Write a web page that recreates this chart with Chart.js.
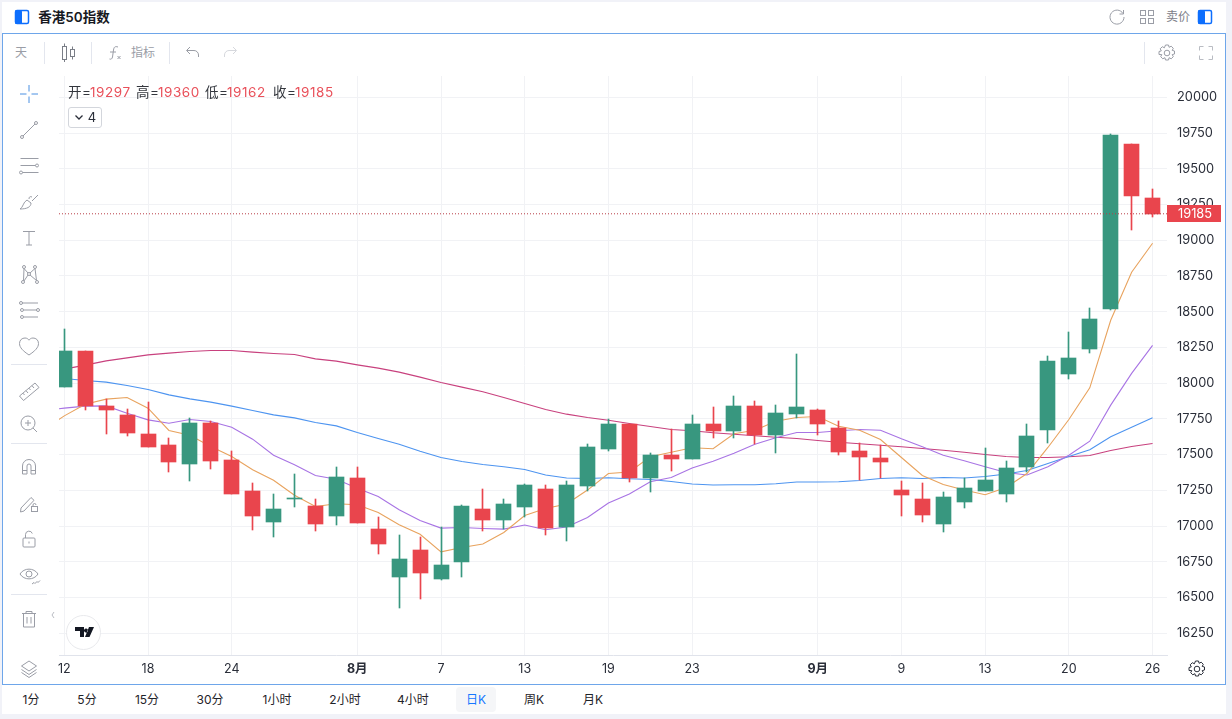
<!DOCTYPE html>
<html><head><meta charset="utf-8">
<script src="https://cdn.jsdelivr.net/npm/chart.js@4"></script>
<style>
html,body{margin:0;padding:0;width:1232px;height:719px;overflow:hidden;background:#f1f2f8;font-family:Inter,"Noto Sans CJK SC",sans-serif}
.abs{position:absolute}
#top{left:2px;top:2px;width:1224px;height:31px;background:#fff}
#frame{left:2px;top:33px;width:1222px;height:650px;background:#fff;border:1px solid #6ea6ea}
#bottom{left:2px;top:685px;width:1224px;height:29px;background:#fff}
canvas{position:absolute;left:0;top:0}
.t{position:absolute;white-space:nowrap;line-height:16px;transform:translate(-50%,-50%)}
.sep{position:absolute;background:#e3e6ee}
#legend span{position:absolute;top:84px;font-size:13.5px;line-height:16px;white-space:nowrap;letter-spacing:.55px}
svg{position:absolute;overflow:visible}
</style></head><body>
<div class="abs" id="top"></div><div class="abs" id="frame"></div><div class="abs" id="bottom"></div>
<div id="chrome"></div>
<canvas id="c" width="1232" height="719"></canvas>
<div id="legend"></div>
<div id="over"></div>
<script>
const xTickIndex=[0,4,8,14,18,22,26,30,36,40,44,48,52];
const xTickLabels=['12','18','24','8月','7','13','19','23','9月','9','13','20','26'];
const yTicks=[20000,19750,19500,19250,19000,18750,18500,18250,18000,17750,17500,17250,17000,16750,16500,16250];
const opens=[17974,18226,17841,17778,17645,17568,17436,17722,17464,17247,17030,17188,17142,17072,17338,16981,16645,16834,16629,16748,17119,17042,17133,17259,16993,17280,17538,17713,17336,17496,17468,17713,17664,17839,17636,17783,17811,17685,17524,17475,17252,17189,17014,17168,17245,17224,17412,17671,18063,18238,18519,19674,19297];
const closes=[18226,17837,17813,17652,17555,17450,17722,17457,17226,17072,17121,17195,17016,17345,17023,16876,16771,16673,16727,17140,17042,17154,17287,16986,17287,17552,17713,17336,17496,17468,17713,17664,17839,17636,17790,17832,17713,17517,17482,17447,17217,17077,17203,17266,17322,17406,17629,18154,18175,18449,19737,19310,19185];
const highs=[18380,18226,17888,17820,17869,17617,17755,17736,17527,17303,17226,17366,17191,17415,17415,17065,16939,16925,16993,17147,17259,17189,17294,17287,17315,17573,17748,17713,17510,17678,17776,17832,17909,17874,17846,18203,17818,17734,17578,17566,17315,17301,17238,17336,17543,17455,17713,18189,18358,18526,19744,19674,19360];
const lows=[17974,17813,17645,17631,17555,17380,17317,17401,17226,16974,16925,17135,16967,17009,17023,16806,16428,16491,16622,16643,16965,16979,17063,16937,16895,17245,17524,17308,17238,17385,17468,17615,17615,17573,17510,17755,17636,17496,17322,17336,17070,17028,16958,17126,17245,17168,17378,17580,18028,18210,18512,19072,19162];
// moving averages: first entry is the bar just left of the visible window
const ma5=[17673,17771,17853,17888,17900,17825,17669,17636,17557,17487,17394,17321,17216,17137,17156,17149,17095,17009,16943,16820,16850,16874,16955,17074,17123,17154,17252,17368,17378,17485,17517,17548,17541,17646,17671,17734,17760,17767,17699,17671,17606,17480,17354,17291,17252,17219,17270,17368,17550,17746,17967,18440,18776,18979];
const ma10=[17809,17825,17839,17841,17790,17743,17720,17746,17732,17692,17608,17496,17429,17354,17328,17265,17207,17114,17039,16986,16990,16983,16979,17007,16974,16993,17060,17161,17224,17310,17340,17406,17454,17510,17573,17618,17655,17655,17667,17676,17671,17611,17555,17496,17457,17415,17375,17357,17415,17496,17594,17846,18068,18264];
const ma30=[18047,18033,18019,18007,17984,17956,17918,17890,17867,17839,17809,17778,17757,17725,17701,17655,17613,17573,17524,17480,17452,17431,17415,17396,17357,17336,17333,17338,17331,17326,17312,17294,17287,17289,17289,17296,17308,17308,17310,17319,17333,17338,17333,17340,17336,17347,17364,17389,17438,17487,17534,17625,17692,17758];
const ma60=[18075,18098,18126,18156,18177,18198,18210,18221,18228,18228,18217,18207,18200,18170,18154,18128,18105,18077,18042,18005,17972,17940,17900,17858,17816,17783,17760,17741,17718,17697,17676,17667,17653,17643,17632,17622,17613,17599,17587,17576,17566,17555,17543,17531,17517,17501,17487,17480,17480,17485,17494,17529,17557,17578];

const GREEN='#38977f',RED='#e9454d';
const last=closes.length-1, lastClose=closes[last];
const xMin=-0.253,xMax=52.69,yMin=16098,yMax=20149;
const FONT='Inter,"Noto Sans CJK SC",sans-serif';
const col=i=>closes[i]>=opens[i]?GREEN:RED;
const barColors=closes.map((_,i)=>col(i));
const maSet=(data,color)=>({type:'line',data:data.map((y,i)=>({x:i-1,y})),borderColor:color,borderWidth:1.1,pointRadius:0,tension:0,order:3});

const snapBars={id:'snapBars',beforeDatasetsDraw(ch){
  ch.data.datasets.forEach((d,k)=>{ if(d.type!=='bar')return;
    ch.getDatasetMeta(k).data.forEach(el=>{el.x=Math.floor(el.x)+0.5;el.y=Math.round(el.y);el.base=Math.round(el.base);});});
}};
const priceTag={id:'priceTag',afterDraw(ch){
  const c=ch.ctx,y=ch.scales.y.getPixelForValue(lastClose),r=ch.chartArea.right;
  c.save();c.fillStyle=RED;c.fillRect(r,Math.round(y)-9,54,17);
  c.fillStyle='#fff';c.font='12.8px '+FONT;c.textAlign='left';c.textBaseline='middle';
  c.fillText(String(lastClose),r+11,Math.round(y)+0.5);c.restore();
}};
new Chart(document.getElementById('c'),{
  type:'bar',
  data:{datasets:[
    {type:'bar',label:'wick',data:highs.map((h,i)=>({x:i,y:[lows[i],h]})),backgroundColor:barColors,barThickness:1,grouped:false,order:2},
    {type:'bar',label:'body',data:opens.map((o,i)=>({x:i,y:[o,closes[i]]})),backgroundColor:barColors,barThickness:15,grouped:false,order:1},
    maSet(ma5,'#e8a35e'),maSet(ma10,'#a874e4'),maSet(ma30,'#4d94f0'),maSet(ma60,'#c8417e'),
    {type:'line',label:'last',data:[{x:xMin,y:lastClose},{x:xMax,y:lastClose}],borderColor:'#b83f47',borderWidth:1,borderDash:[1,2],pointRadius:0,order:0}
  ]},
  plugins:[snapBars,priceTag],
  options:{responsive:false,animation:false,devicePixelRatio:1,
    layout:{padding:{left:59,top:76,right:0,bottom:0}},
    plugins:{legend:{display:false},tooltip:{enabled:false}},
    scales:{
      x:{type:'linear',min:xMin,max:xMax,offset:false,
        afterBuildTicks:s=>{s.ticks=xTickIndex.map(v=>({value:v}));},
        afterFit:s=>{s.height=64;},
        grid:{color:'#f1f2f5',drawTicks:false,offset:false},border:{color:'#e0e3eb'},
        ticks:{autoSkip:false,maxRotation:0,padding:7,color:'#2a2e39',
          callback:v=>xTickLabels[xTickIndex.indexOf(v)],
          font:c=>{const l=c.tick?(xTickLabels[xTickIndex.indexOf(c.tick.value)]||''):'';return {family:FONT,size:12.5,weight:l.includes('月')?'bold':'normal'};}}},
      y:{type:'linear',position:'right',min:yMin,max:yMax,
        afterBuildTicks:s=>{s.ticks=yTicks.map(v=>({value:v}));},
        afterFit:s=>{s.width=65;},
        grid:{color:'#f1f2f5',drawTicks:false},border:{display:false},
        ticks:{autoSkip:false,padding:10,crossAlign:'near',color:'#2a2e39',font:{family:FONT,size:12.8},callback:v=>String(v)}}
    }
  }
});

// page chrome
const G='#9a9da6';
const chrome=document.getElementById('chrome'),over=document.getElementById('over');
function txt(x,y,s,size,color,weight,host){const d=document.createElement('div');d.className='t';d.textContent=s;d.style.cssText=`left:${x}px;top:${y}px;font-size:${size}px;color:${color};font-weight:${weight||400}`;(host||chrome).appendChild(d);}
function sep(x,y,w,h){const d=document.createElement('div');d.className='sep';d.style.cssText=`left:${x}px;top:${y}px;width:${w}px;height:${h}px`;chrome.appendChild(d);}
function ic(cx,cy,inner,host,color){const s=document.createElementNS('http://www.w3.org/2000/svg','svg');s.setAttribute('width',24);s.setAttribute('height',24);s.setAttribute('viewBox','0 0 24 24');s.style.left=(cx-12)+'px';s.style.top=(cy-12)+'px';s.setAttribute('fill','none');s.setAttribute('stroke',color||G);s.setAttribute('stroke-width','1');s.innerHTML=inner;(host||chrome).appendChild(s);}
const panel='<rect x="5.5" y="5.5" width="13" height="13" rx="1.5" fill="#fff" stroke="#0d6efd" stroke-width="1.5"/><rect x="5" y="5" width="7" height="14" rx="1.5" fill="#0d6efd" stroke="none"/>';
ic(22,17,panel);
txt(74,17,'香港50指数',13.5,'#17191f',600);
ic(1117,17,'<path d="M18 8.5A7 7 0 1 0 19 12"/><path d="M18.5 5v4h-4"/>');
ic(1147,17,'<rect x="5.5" y="5.5" width="5" height="5"/><rect x="13.5" y="5.5" width="5" height="5"/><rect x="5.5" y="13.5" width="5" height="5"/><rect x="13.5" y="13.5" width="5" height="5"/>');
txt(1178,17,'卖价',12,'#7d8088');
ic(1205,17,panel);
// toolbar
txt(21,53,'天',12,G);
sep(44,42,1,22);sep(91,42,1,22);sep(169,42,1,22);sep(1144,42,1,22);
ic(68,53,'<rect x="6.5" y="5.5" width="4" height="13"/><path d="M8.500 2.500v3M8.500 18.500V21"/><rect x="14.500" y="8.500" width="4" height="7"/><path d="M16.500 5.500v3M16.500 15.500v3"/>',null,'#7a7e87');
ic(115,53,'<path d="M15 6c-3-1-4 0-4.500 3l-1 7c-.4 2-1.500 2.500-3 2M7 11h6"/><path d="M14.500 15l3 3M17.500 15l-3 3"/>');
txt(143,53,'指标',12,G);
ic(193,53,'<path d="M9 6l-3.500 3.500L9 13M6 9.500h7a4.500 4.500 0 0 1 4.500 4.500v2"/>',null,'#9a9da5');
ic(230,53,'<path d="M15 6l3.500 3.500L15 13M18 9.500h-7a4.500 4.500 0 0 0-4.500 4.500v2"/>',null,'#d6d8dd');
ic(1167,53,'<circle cx="12" cy="12" r="2.800"/><path d="M10.500 4h3l.6 2.300 2.100-1.100 2.100 2.100-1.100 2.100 2.300.6v3l-2.300.6 1.100 2.100-2.100 2.100-2.100-1.100-.6 2.300h-3l-.6-2.300-2.100 1.100-2.100-2.100 1.100-2.100L4 13.500v-3l2.300-.6-1.100-2.100 2.100-2.100 2.100 1.100z"/>');
ic(1206,53,'<path d="M5.500 9.500V5.500h4M14.500 5.500h4v4M18.500 14.500v4h-4M9.500 18.500h-4v-4"/>',null,'#b9bcc3');
// left tools
ic(29,94,'<path d="M12 3v6.500M12 14.500V21M3 12h6.500M14.500 12H21"/>',null,'#4a90e2');
ic(29,130,'<circle cx="5" cy="19" r="1.500"/><circle cx="19" cy="5" r="1.500"/><path d="M6 18L18 6"/>');
ic(29,166,'<path d="M3.500 4.500h18M3.500 11.500h15M5.500 18.500h16"/><circle cx="20" cy="11.500" r="1.500"/><circle cx="4" cy="18.500" r="1.500"/>');
ic(29,202,'<path d="M3 19c3-1 3-7 7-9l4 3c0 4-4 6-11 6zM15 11l6-6M12 9c0-2 1-3 3-2"/>');
ic(29,238,'<path d="M6 5.500h12M12 5.500V19M9 19h6"/>');
ic(29,274,'<circle cx="6" cy="20" r="1.500"/><circle cx="7" cy="5" r="1.500"/><circle cx="12" cy="12" r="1.500"/><circle cx="18" cy="5" r="1.500"/><circle cx="20" cy="20" r="1.500"/><path d="M6.500 18.500L7 6.500 11 11M13 11l5-4.500L19.500 18.500 13 13M11 13l-4 6"/>');
ic(29,310,'<path d="M5 5h16M7 12h13M7 19h14"/><circle cx="4" cy="5" r="1.500"/><circle cx="5" cy="12" r="1.500"/><circle cx="21" cy="12" r="1.500"/><circle cx="5" cy="19" r="1.500"/>');
ic(29,346,'<path d="M12 21C6 17 2.500 13.500 2.500 9.500 2.500 6 5 4 8 4c2 0 3.200 1 4 2.200C12.800 5 14 4 16 4c3 0 5.500 2 5.500 5.500 0 4-3.500 7.500-9.500 11.500z"/>');
sep(11,364,36,1);
ic(29,391,'<path d="M2.500 17L18 4l4 4.500L6.500 21.500zM6 14.200l1.500 1.800M9 11.700l2 2.300M12 9.200l1.500 1.800M15 6.700l2 2.300"/>');
ic(29,424,'<circle cx="11" cy="11" r="7"/><path d="M11 8v6M8 11h6M16 16l4 4"/>');
sep(11,443,36,1);
ic(29,467,'<path d="M5.500 19v-8a6.500 6.500 0 0 1 13 0v8h-4.500v-8a2 2 0 0 0-4 0v8zM5.500 15.500H10M14 15.500h4.500"/>');
ic(29,503,'<path d="M4 17L14 6.500l3 2.800L7 20l-3.500 1z"/><rect x="14.500" y="15.500" width="6" height="5"/><path d="M16 15.500v-1.500a1.500 1.500 0 0 1 3 0"/>');
ic(29,539,'<rect x="6" y="11" width="12" height="9" rx="1"/><path d="M8.500 11V7.500a3.500 3.500 0 0 1 6.800-1M12 14.500v2"/>');
ic(29,575,'<path d="M3 11c4-6.500 14-6.500 18 0-4 6.500-14 6.500-18 0z"/><circle cx="12" cy="11" r="3"/><path d="M15 21l2-1.500 1 1 2-2 1 1 2-2"/>');
sep(11,594,36,1);
ic(29,619,'<path d="M5 6.500h14M9 6.500V4.500h6v2M6.500 6.500V20h11V6.500M10 10v6.500M14 10v6.500"/>');
ic(53,615,'<path d="M13 9l-2 3 2 3"/>',null,'#b9bcc3');
ic(29,669,'<path d="M12 4l7.500 5-7.500 5-7.500-5zM4.500 12.500l7.500 5 7.500-5M4.500 15.500l7.500 5 7.500-5"/>');
// bottom tabs
const hl=document.createElement('div');hl.className='sep';hl.style.cssText='left:456px;top:687px;width:40px;height:25px;background:#f5f6f8;border-radius:4px';chrome.appendChild(hl);
[[31,'1分'],[87,'5分'],[147,'15分'],[210,'30分'],[277,'1小时'],[345,'2小时'],[413,'4小时'],[534,'周K'],[593,'月K']].forEach(a=>txt(a[0],700,a[1],12,'#1f2329'));
txt(476,700,'日K',12,'#1677ff');
// over-chart items
ic(1197,669,'<circle cx="12" cy="12" r="2.800"/><path d="M10.500 4h3l.6 2.300 2.100-1.100 2.100 2.100-1.100 2.100 2.300.6v3l-2.300.6 1.100 2.100-2.100 2.100-2.100-1.100-.6 2.300h-3l-.6-2.300-2.100 1.100-2.100-2.100 1.100-2.100L4 13.500v-3l2.300-.6-1.100-2.100 2.100-2.100 2.100 1.100z"/>',over,'#2a2e39');
const lg=document.getElementById('legend');
[[68,'开='],[90,opens[last]],[136,'高='],[158,highs[last]],[205,'低='],[227,lows[last]],[273,'收='],[295,closes[last]]].forEach(a=>{const s=document.createElement('span');s.textContent=a[1];s.style.left=a[0]+'px';s.style.color=typeof a[1]==='number'?'#e9505a':'#33363d';lg.appendChild(s);});
const box=document.createElement('div');box.className='abs';box.style.cssText='left:68px;top:107px;width:32px;height:19px;border:1px solid #d3d6dc;border-radius:3px;background:#fff';over.appendChild(box);
ic(79,117,'<path d="M8.500 10.500L12 14l3.500-3.500" stroke-width="1.300"/>',over,'#2a2e39');
txt(92,117,'4',13,'#2a2e39',400,over);
const logo=document.createElement('div');logo.className='abs';logo.style.cssText='left:66px;top:615px;width:33px;height:33px;border:1px solid #e8e9ec;border-radius:50%;background:#fff';over.appendChild(logo);
ic(84,632,'<path d="M3 7h9v10H8v-6H3zM14 8.500a2 2 0 1 0 .01 0zM17 7h5l-4.500 10h-4.500z" fill="#131722" stroke="none"/>',over,'#131722');
</script>
</body></html>
